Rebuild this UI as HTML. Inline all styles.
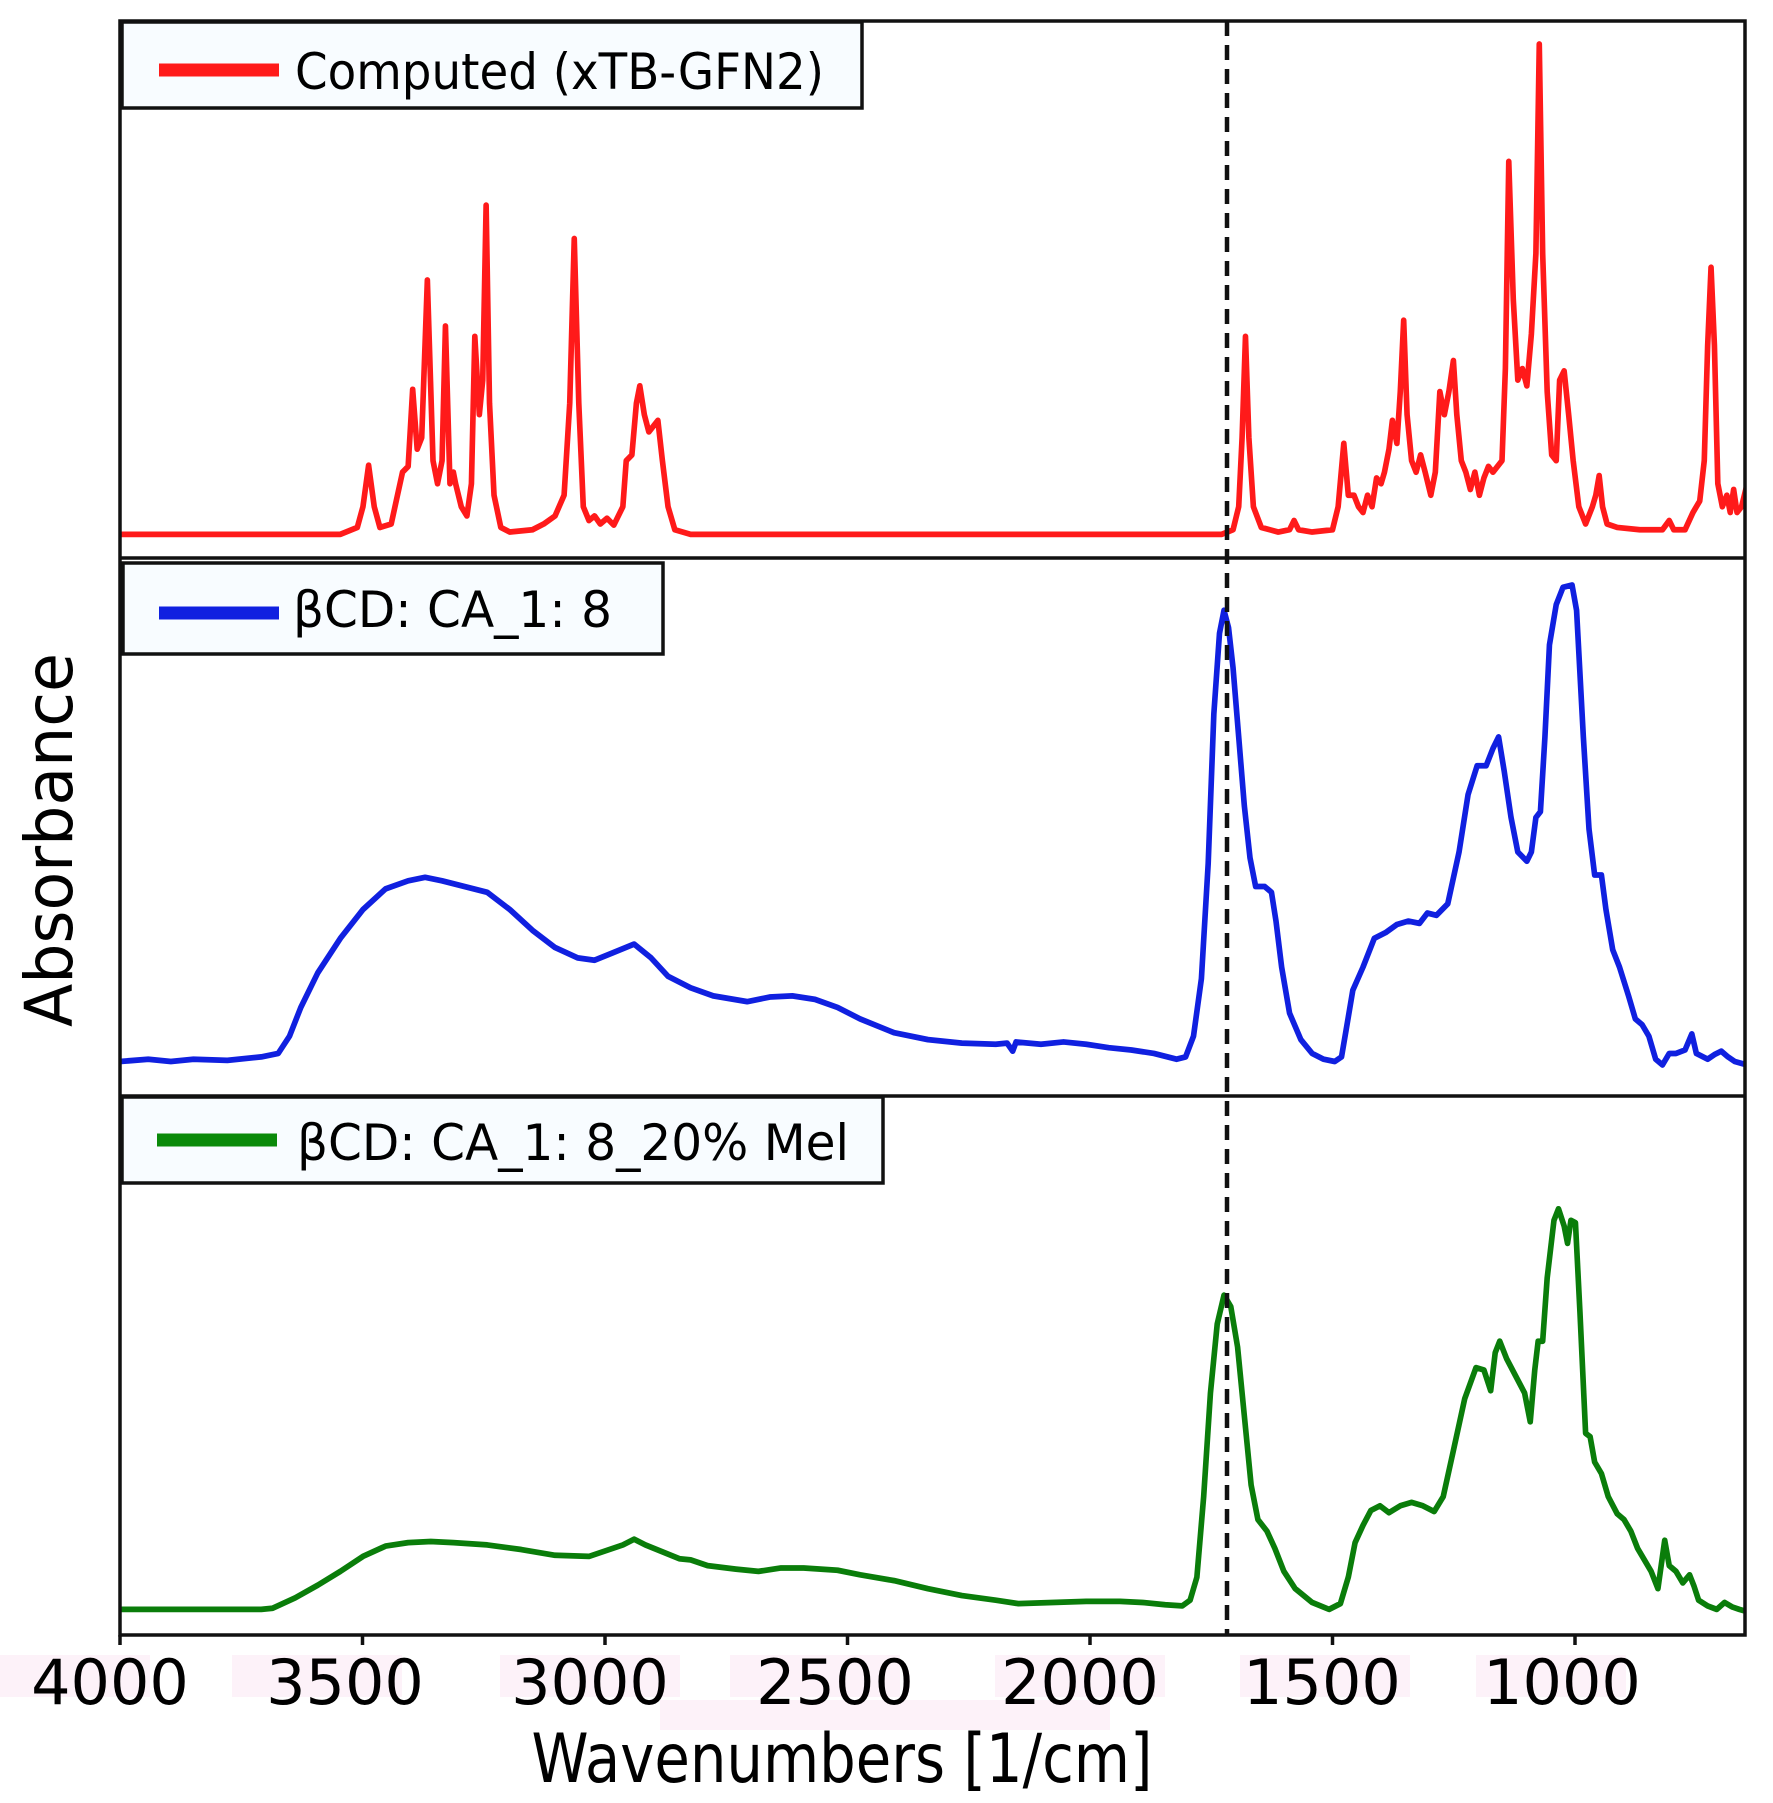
<!DOCTYPE html>
<html><head><meta charset="utf-8"><style>html,body{margin:0;padding:0;background:#fff}svg{display:block}</style></head>
<body>
<svg width="1773" height="1803" viewBox="0 0 1773 1803" xmlns="http://www.w3.org/2000/svg" font-family="DejaVu Sans, Liberation Sans, sans-serif">
<defs><clipPath id="c"><rect x="120" y="21" width="1625" height="1614"/></clipPath></defs>
<g fill="#fdf2f9">
<rect x="0" y="1655" width="150" height="42"/><rect x="232" y="1655" width="170" height="42"/>
<rect x="500" y="1655" width="180" height="42"/><rect x="730" y="1655" width="170" height="42"/>
<rect x="995" y="1655" width="170" height="42"/><rect x="1240" y="1655" width="170" height="42"/>
<rect x="1476" y="1655" width="150" height="42"/><rect x="660" y="1700" width="450" height="30"/>
</g>
<g clip-path="url(#c)" fill="none" stroke-linejoin="round" stroke-linecap="round">
<g transform="translate(1.35,0.28) scale(1.13,1.151)" stroke-width="5">
<polyline stroke="#ff1a1a" points="105,464 300,464 315,458 320,440 325,404 330,440 335,458 345,455 355,410 360,405 364,338 368,390 372,380 377,243 382,400 386,420 390,400 393,283 397,420 400,410 402,420 407,440 412,448 416,420 419,292 423,360 426,330 429,178 432,350 436,430 442,458 450,462 470,460 480,455 490,448 498,430 503,350 507,207 511,350 515,440 520,452 525,448 530,455 536,450 542,456 550,440 553,400 558,395 562,350 565,335 569,360 573,375 577,370 581,365 585,400 590,440 596,460 610,464 1080,464 1090,460 1095,440 1098,380 1101,292 1104,380 1108,440 1115,458 1130,462 1140,460 1144,452 1148,460 1160,462 1178,460 1183,440 1188,385 1192,430 1197,430 1201,440 1205,445 1209,430 1213,440 1217,415 1221,420 1224,410 1228,390 1231,365 1235,385 1238,340 1241,278 1244,360 1248,400 1252,410 1256,395 1260,410 1265,430 1269,410 1273,340 1277,360 1281,340 1285,313 1288,360 1292,400 1296,410 1300,425 1304,410 1308,430 1312,415 1316,405 1320,410 1324,405 1328,400 1331,320 1334,140 1338,260 1342,330 1346,320 1350,335 1354,290 1358,220 1361,38 1364,220 1368,340 1372,395 1376,400 1379,330 1383,322 1387,360 1391,400 1396,440 1402,455 1408,440 1411,430 1414,413 1417,440 1421,455 1430,458 1450,460 1470,460 1476,452 1480,460 1490,460 1497,445 1503,435 1507,400 1510,300 1513,232 1516,300 1519,420 1523,440 1527,430 1530,445 1533,425 1536,445 1540,440 1545,420"/>
<polyline stroke="#1020e0" points="105,922 130,920 150,922 170,920 200,921 230,918 245,915 255,900 265,875 280,845 300,815 320,790 340,772 360,765 375,762 390,765 410,770 430,775 450,790 470,808 490,823 510,832 525,834 540,828 560,820 575,832 590,848 610,858 630,865 660,870 680,866 700,865 720,868 740,875 760,885 790,897 820,903 850,906 880,907 890,906 895,913 898,905 920,907 940,905 960,907 980,910 1000,912 1020,915 1040,920 1048,918 1055,900 1062,850 1068,750 1073,620 1078,550 1082,530 1086,545 1090,580 1095,640 1100,700 1105,745 1110,770 1118,770 1124,775 1128,800 1133,840 1140,880 1150,903 1160,915 1170,920 1180,922 1186,918 1190,895 1196,860 1205,840 1215,815 1225,810 1235,803 1245,800 1255,802 1262,793 1270,795 1280,785 1290,740 1298,690 1306,665 1314,665 1320,650 1325,640 1330,670 1336,710 1342,740 1350,748 1354,740 1358,710 1362,705 1366,640 1370,560 1376,525 1382,510 1390,508 1394,530 1400,640 1405,720 1410,760 1416,760 1420,790 1426,825 1432,840 1440,865 1446,885 1452,890 1458,900 1464,920 1470,925 1476,915 1482,915 1490,912 1496,898 1500,915 1510,920 1516,916 1522,913 1528,918 1534,922 1545,925"/>
<polyline stroke="#0a7d0a" points="105,1398 230,1398 240,1397 260,1388 280,1377 300,1365 320,1352 340,1343 360,1340 380,1339 400,1340 430,1342 460,1346 490,1351 520,1352 535,1347 550,1342 560,1337 570,1342 585,1348 600,1354 610,1355 625,1360 650,1363 670,1365 690,1362 710,1362 740,1364 760,1368 790,1373 820,1380 850,1386 880,1390 900,1393 930,1392 960,1391 990,1391 1010,1392 1030,1394 1045,1395 1052,1390 1058,1370 1064,1300 1070,1210 1076,1150 1082,1125 1088,1135 1094,1170 1100,1230 1106,1290 1112,1320 1120,1330 1127,1345 1135,1365 1145,1380 1160,1392 1175,1398 1185,1393 1192,1370 1198,1340 1205,1325 1212,1312 1220,1308 1228,1314 1238,1308 1248,1305 1258,1308 1268,1313 1276,1300 1285,1260 1295,1215 1305,1188 1312,1190 1318,1208 1322,1175 1326,1165 1332,1180 1340,1195 1348,1210 1353,1235 1357,1190 1360,1165 1364,1165 1368,1110 1374,1060 1378,1050 1383,1065 1386,1080 1389,1060 1393,1062 1397,1140 1402,1245 1406,1248 1410,1270 1416,1280 1422,1300 1430,1315 1436,1320 1442,1330 1448,1345 1454,1355 1460,1365 1466,1380 1472,1338 1476,1360 1482,1365 1488,1375 1494,1368 1498,1378 1502,1390 1510,1395 1518,1398 1525,1392 1532,1396 1538,1398 1545,1400"/>
</g>
</g>
<line x1="1227" y1="21" x2="1227" y2="1635" stroke="#111" stroke-width="4.5" stroke-dasharray="15 9"/>
<g stroke="#111" stroke-width="3.5" fill="none">
<rect x="120" y="21" width="1625" height="1614"/>
<line x1="120" y1="558" x2="1745" y2="558"/>
<line x1="120" y1="1096" x2="1745" y2="1096"/>
<path d="M120 1635v10M362.5 1635v10M605 1635v10M847.5 1635v10M1090 1635v10M1332.5 1635v10M1575 1635v10"/>
</g>
<g stroke="#111" stroke-width="3.5" fill="#f8fcff">
<rect x="122" y="22" width="740" height="86"/>
<rect x="123" y="563" width="540" height="91"/>
<rect x="122" y="1097" width="761" height="86"/>
</g>
<g stroke-width="13">
<line x1="159" y1="70" x2="279" y2="70" stroke="#ff1a1a"/>
<line x1="159" y1="613" x2="279" y2="613" stroke="#1020e0"/>
<line x1="157" y1="1140" x2="277" y2="1140" stroke="#0a8a0a"/>
</g>
<g font-size="50" fill="#000">
<text x="295" y="89" textLength="529" lengthAdjust="spacingAndGlyphs">Computed (xTB-GFN2)</text>
<text x="293" y="627" textLength="319" lengthAdjust="spacingAndGlyphs">βCD: CA_1: 8</text>
<text x="297" y="1160" textLength="552" lengthAdjust="spacingAndGlyphs">βCD: CA_1: 8_20% Mel</text>
</g>
<g font-size="62" fill="#000" text-anchor="middle">
<text x="110" y="1704">4000</text><text x="345" y="1704">3500</text>
<text x="590" y="1704">3000</text><text x="835" y="1704">2500</text>
<text x="1080" y="1704">2000</text><text x="1322" y="1704">1500</text>
<text x="1562" y="1704">1000</text>
</g>
<text x="842" y="1782" font-size="68" text-anchor="middle" textLength="621" lengthAdjust="spacingAndGlyphs">Wavenumbers [1/cm]</text>
<text transform="translate(72,840) rotate(-90)" font-size="66" text-anchor="middle" textLength="374" lengthAdjust="spacingAndGlyphs">Absorbance</text>
</svg>
</body></html>
